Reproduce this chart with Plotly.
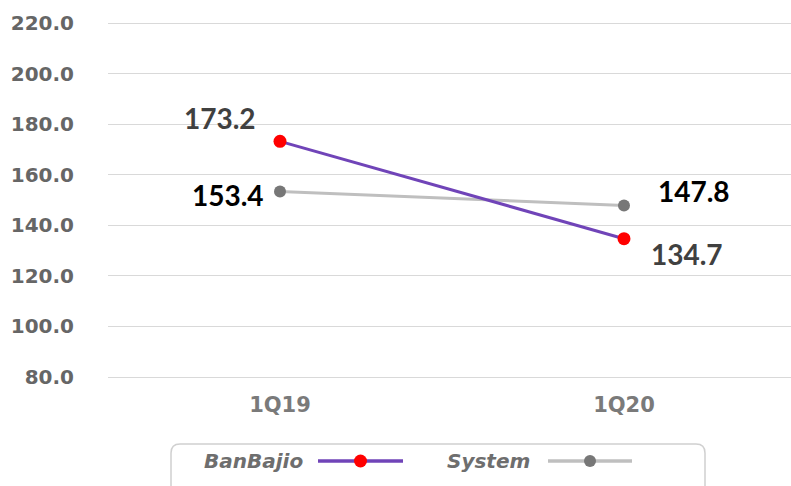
import plotly.graph_objects as go

# Quarterly values for each series
quarters = ["1Q19", "1Q20"]
banbajio = [173.2, 134.7]
system = [153.4, 147.8]
series_names = ["BanBajio", "System"]

y_ticks = [80, 100, 120, 140, 160, 180, 200, 220]

W, H = 791, 486
ML, MR, MT, MB = 108, 0, 19, 105
PW, PH = W - ML - MR, H - MT - MB
PAD = 4 * 140 / 354  # a few px of headroom so the edge gridlines render

FONT = "DejaVu Sans"
LABEL_FONT = "Lato"
TICK_GRAY = "#666666"
PURPLE = "#7044B8"
RED = "#FF0000"
LIGHT = "#BFBFBF"
DARK_DOT = "#777777"


def px(x):
    return (x - ML) / PW


def py(y):
    return (H - MB - y) / PH


fig = go.Figure()
fig.add_trace(go.Scatter(
    x=quarters, y=system, mode="lines+markers", name=series_names[1],
    line=dict(color=LIGHT, width=3),
    marker=dict(color=DARK_DOT, size=12), showlegend=False,
))
fig.add_trace(go.Scatter(
    x=quarters, y=banbajio, mode="lines+markers", name=series_names[0],
    line=dict(color=PURPLE, width=3),
    marker=dict(color=RED, size=13), showlegend=False,
))

# Data labels, anchored on each point
label_specs = [
    (banbajio, "#404040", [(-60, 23), (63, -15)]),
    (system, "#000000", [(-52, -4), (70, 15)]),
]
for values, color, shifts in label_specs:
    for q, v, (dx, dy) in zip(quarters, values, shifts):
        fig.add_annotation(
            x=q, y=v, text=f"<b>{v:.1f}</b>", showarrow=False,
            xshift=dx, yshift=dy,
            font=dict(family=LABEL_FONT, size=28, color=color),
        )

# Legend box with text placed before each line sample
shapes = []
r = 9
x0, x1, y0, y1 = 171, 705, 444, 520
path = (
    f"M {px(x0)},{py(y1)} L {px(x0)},{py(y0 + r)} "
    f"Q {px(x0)},{py(y0)} {px(x0 + r)},{py(y0)} "
    f"L {px(x1 - r)},{py(y0)} "
    f"Q {px(x1)},{py(y0)} {px(x1)},{py(y0 + r)} "
    f"L {px(x1)},{py(y1)}"
)
shapes.append(dict(type="path", path=path, xref="paper", yref="paper",
                   line=dict(color="#D0D0D0", width=1.5)))

legend_items = [
    (series_names[0], 305, 318, 403, PURPLE, RED, 13),
    (series_names[1], 532, 548, 632, LIGHT, DARK_DOT, 12),
]
ly = 461
for name, text_right, lx0, lx1, lcol, mcol, msize in legend_items:
    fig.add_annotation(
        x=px(text_right), y=py(ly), xref="paper", yref="paper",
        xanchor="right", yanchor="middle", showarrow=False,
        text=f"<b><i>{name}</i></b>",
        font=dict(family=FONT, size=20, color="#6E6E6E"),
    )
    shapes.append(dict(type="line", xref="paper", yref="paper",
                       x0=px(lx0), x1=px(lx1), y0=py(ly), y1=py(ly),
                       line=dict(color=lcol, width=3.5)))
    cx = (lx0 + lx1) / 2
    rr = msize / 2
    shapes.append(dict(type="circle", xref="paper", yref="paper",
                       x0=px(cx - rr), x1=px(cx + rr),
                       y0=py(ly + rr), y1=py(ly - rr),
                       fillcolor=mcol, line=dict(color=mcol, width=0)))

fig.update_layout(
    width=W, height=H,
    margin=dict(l=ML, r=MR, t=MT, b=MB),
    paper_bgcolor="white", plot_bgcolor="white",
    shapes=shapes,
    xaxis=dict(
        type="category", range=[-0.5, 1.4855],
        showgrid=False, zeroline=False, showline=False,
        tickfont=dict(family=FONT, size=21, color="#7A7A7A"),
        ticklabelstandoff=9,
        tickprefix="<b>", ticksuffix="</b>",
    ),
    yaxis=dict(
        range=[80 - PAD, 220 + PAD], tickvals=y_ticks,
        ticktext=[f"<b>{t:.1f}</b>" for t in y_ticks],
        showgrid=True, gridcolor="#D9D9D9", gridwidth=1.3,
        zeroline=False, showline=False,
        tickfont=dict(family=FONT, size=20, color=TICK_GRAY),
        ticklabelstandoff=33,
    ),
)

fig.write_html("out.html")
